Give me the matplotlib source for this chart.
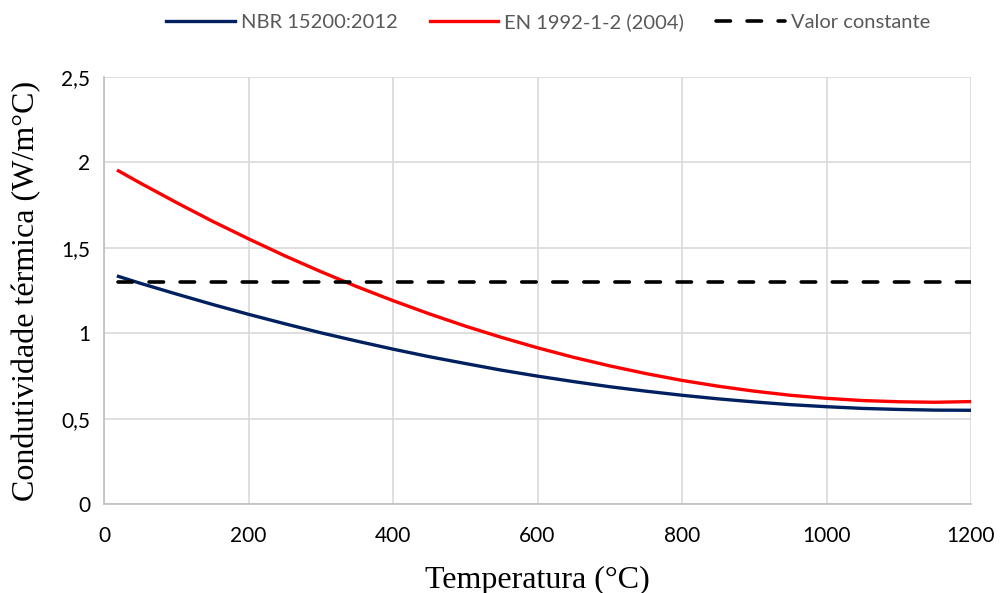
import numpy as np
import matplotlib.pyplot as plt

# temperatura (°C)
temp = [20, 50, 100, 150, 200, 250, 300, 350, 400, 450, 500, 550, 600,
        650, 700, 750, 800, 850, 900, 950, 1000, 1050, 1100, 1150, 1200]
nbr = [1.333, 1.293, 1.230, 1.169, 1.111, 1.056, 1.003, 0.954, 0.907,
       0.863, 0.823, 0.784, 0.749, 0.717, 0.687, 0.661, 0.637, 0.616,
       0.598, 0.582, 0.570, 0.560, 0.554, 0.550, 0.549]
en = [1.951, 1.880, 1.766, 1.656, 1.553, 1.454, 1.361, 1.273, 1.191,
      1.114, 1.042, 0.976, 0.915, 0.859, 0.809, 0.764, 0.724, 0.690,
      0.661, 0.637, 0.619, 0.606, 0.599, 0.596, 0.600]
const_temp = [20, 1200]
const_val = [1.3, 1.3]

xticks = [0, 200, 400, 600, 800, 1000, 1200]
yticks = [0, 0.5, 1, 1.5, 2, 2.5]
ytick_labels = ["0", "0,5", "1", "1,5", "2", "2,5"]

sans = ["Lato", "DejaVu Sans"]
serif = ["Liberation Serif", "DejaVu Serif"]

fig = plt.figure(figsize=(10, 5.93), dpi=100)
ax = fig.add_axes([0.104, 0.150, 0.867, 0.720])

ax.plot(temp, nbr, color="#002060", lw=2.4, label="NBR 15200:2012")
ax.plot(temp, en, color="#ff0000", lw=2.4, label="EN 1992-1-2 (2004)")
ax.plot(const_temp, const_val, color="black", lw=2.6, ls=(0, (4, 4.6)),
        dash_capstyle="round", label="Valor constante")

ax.set_xlim(0, 1200)
ax.set_ylim(0, 2.5)
ax.set_xticks(xticks)
ax.set_yticks(yticks)
ax.set_yticklabels(ytick_labels)
ax.grid(True, color="#d9d9d9", lw=1.2)
ax.set_axisbelow(True)
for s in ax.spines.values():
    s.set_visible(False)
ax.spines["left"].set_visible(True)
ax.spines["bottom"].set_visible(True)
ax.spines["left"].set_color("#bfbfbf")
ax.spines["bottom"].set_color("#bfbfbf")
ax.spines["left"].set_linewidth(1.2)
ax.spines["bottom"].set_linewidth(1.2)
ax.tick_params(length=0, labelsize=15, pad=10)
for lab in ax.get_xticklabels() + ax.get_yticklabels():
    lab.set_family(sans)
    lab.set_color("#000000")
ax.tick_params(axis="x", pad=16)

ax.set_xlabel("Temperatura (°C)", family=serif, fontsize=23, labelpad=14)
ax.set_ylabel("Condutividade térmica (W/m°C)", family=serif, fontsize=23,
              labelpad=14)

leg = fig.legend(loc="center", bbox_to_anchor=(0.548, 0.962), ncol=3,
                 frameon=False, prop={"family": sans, "size": 14.5},
                 handlelength=3.4, columnspacing=1.6, handletextpad=0.3)
for t in leg.get_texts():
    t.set_color("#595959")

plt.savefig("out.png", dpi=100)
